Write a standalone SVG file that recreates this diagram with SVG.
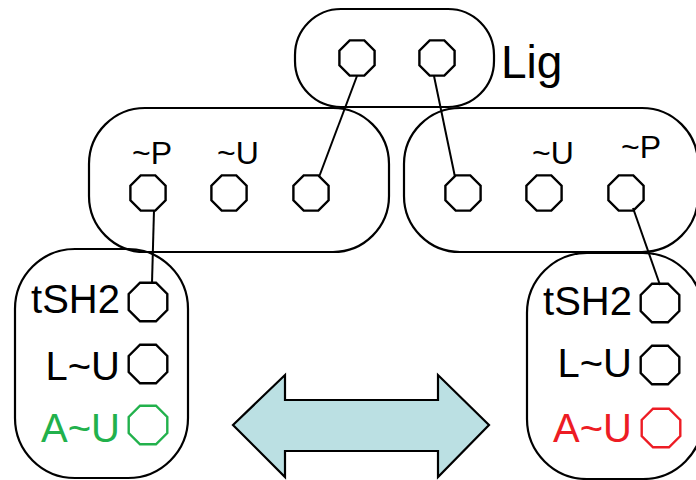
<svg xmlns="http://www.w3.org/2000/svg" width="696" height="480" viewBox="0 0 696 480">
<defs>
<style>
.box{fill:none;stroke:#000;stroke-width:2.2}
.site{fill:#fff;stroke:#000;stroke-width:2.4}
.lbl{font-family:"Liberation Sans",Arial,sans-serif;fill:#000}
.edge{stroke:#000;stroke-width:2;fill:none}
</style>
<polygon id="oct" points="-7.3,-17.6 7.3,-17.6 17.6,-7.3 17.6,7.3 7.3,17.6 -7.3,17.6 -17.6,7.3 -17.6,-7.3"/>
<polygon id="octL" points="-8,-19.3 8,-19.3 19.3,-8 19.3,8 8,19.3 -8,19.3 -19.3,8 -19.3,-8"/>
</defs>
<rect width="696" height="480" fill="#fff"/>

<g id="lig">
<rect class="box" x="295" y="9" width="199" height="98" rx="46" ry="46"/>
<use href="#oct" class="site" x="357" y="58"/>
<use href="#oct" class="site" x="437" y="58"/>
<text class="lbl" x="501" y="78" font-size="46">Lig</text>
</g>

<g id="receptor-left">
<rect class="box" x="89" y="108" width="300" height="144" rx="56" ry="56"/>
<text class="lbl" x="132" y="164" font-size="32">~P</text>
<text class="lbl" x="217" y="164" font-size="32">~U</text>
<use href="#oct" class="site" x="148" y="193"/>
<use href="#oct" class="site" x="229" y="193"/>
<use href="#oct" class="site" x="311" y="193"/>
</g>

<g id="receptor-right">
<rect class="box" x="404" y="108" width="294" height="144" rx="56" ry="56"/>
<text class="lbl" x="532" y="164" font-size="32">~U</text>
<text class="lbl" x="621" y="158" font-size="32">~P</text>
<use href="#oct" class="site" x="463" y="193"/>
<use href="#oct" class="site" x="544" y="193"/>
<use href="#oct" class="site" x="626" y="193"/>
</g>

<g id="effector-left">
<rect class="box" x="15" y="249" width="173" height="229" rx="60" ry="60"/>
<text class="lbl" x="120" y="313" font-size="40" text-anchor="end">tSH2</text>
<text class="lbl" x="120" y="380" font-size="40" text-anchor="end">L~U</text>
<text class="lbl" x="120" y="442" font-size="40" text-anchor="end" style="fill:#22b14c">A~U</text>
<use href="#octL" class="site" x="148" y="302"/>
<use href="#octL" class="site" x="148" y="364"/>
<use href="#octL" class="site" x="148" y="425" style="stroke:#22b14c"/>
</g>

<g id="effector-right">
<rect class="box" x="527" y="253" width="176" height="226" rx="60" ry="60"/>
<text class="lbl" x="632" y="315" font-size="40" text-anchor="end">tSH2</text>
<text class="lbl" x="632" y="377" font-size="40" text-anchor="end">L~U</text>
<text class="lbl" x="632" y="442" font-size="40" text-anchor="end" style="fill:#ed1c24">A~U</text>
<use href="#octL" class="site" x="660" y="303"/>
<use href="#octL" class="site" x="660" y="365"/>
<use href="#octL" class="site" x="661" y="428" style="stroke:#ed1c24"/>
</g>

<g id="connectors">
<line class="edge" x1="357" y1="76" x2="319" y2="177"/>
<line class="edge" x1="434" y1="76" x2="455" y2="177"/>
<line class="edge" x1="154" y1="210" x2="152" y2="283"/>
<line class="edge" x1="633" y1="208" x2="660" y2="285"/>
</g>

<g id="exchange-arrow">
<polygon points="233,425 285,375 285,400 438,400 438,375 489,425 438,477 438,451 285,451 285,477" fill="#bbe0e3" stroke="#000" stroke-width="2.2" stroke-linejoin="miter"/>
</g>
</svg>
